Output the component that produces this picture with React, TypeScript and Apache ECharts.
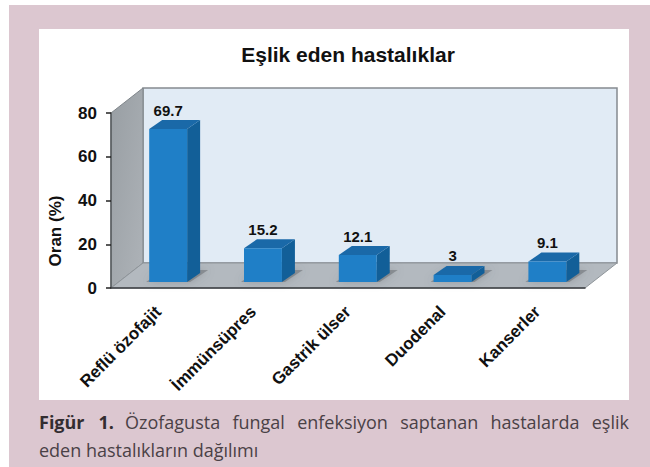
import React, { useEffect, useRef } from "react";
import * as echarts from "echarts";

const chartTitle = "Eşlik eden hastalıklar";
const categories = ["Reflü özofajit", "İmmünsüpres", "Gastrik ülser", "Duodenal", "Kanserler"];
const values = [69.7, 15.2, 12.1, 3, 9.1];
const yTicks = { min: 0, max: 80, interval: 20 };
const yName = "Oran (%)";
const captionBold = "Figür 1.";
const captionLine1 = "Özofagusta fungal enfeksiyon saptanan hastalarda eşlik";
const captionLine2 = "eden hastalıkların dağılımı";

const SANS = "'Liberation Sans', Arial, sans-serif";
const CAP = "'Open Sans', sans-serif";
const PINK = "#dcc7d0";
const DEPTH_X = 32;
const DEPTH_Y = 25;

function renderFrame(params: any) {
  const { x, y, width, height } = params.coordSys;
  const b = y + height;
  const r = x + width;
  return {
    type: "group",
    children: [
      {
        type: "polygon",
        shape: { points: [[x + DEPTH_X, y - DEPTH_Y], [r + DEPTH_X, y - DEPTH_Y], [r + DEPTH_X, b - DEPTH_Y], [x + DEPTH_X, b - DEPTH_Y]] },
        style: { fill: "#e1ebf5", stroke: "#858b90", lineWidth: 1.5 },
      },
      {
        type: "polygon",
        shape: { points: [[x, y], [x + DEPTH_X, y - DEPTH_Y], [x + DEPTH_X, b - DEPTH_Y], [x, b]] },
        style: {
          fill: { type: "linear", x: 0, y: 0, x2: 1, y2: 1, colorStops: [{ offset: 0, color: "#989ea3" }, { offset: 1, color: "#aeb3b8" }] },
          stroke: "#7f858a",
          lineWidth: 1,
        },
      },
      {
        type: "polygon",
        shape: { points: [[x, b], [r, b], [r + DEPTH_X, b - DEPTH_Y], [x + DEPTH_X, b - DEPTH_Y]] },
        style: { fill: "#b3b9bf", stroke: "#8f959a", lineWidth: 1 },
      },
    ],
  };
}

function renderBar(params: any, api: any) {
  const band = api.size([1, 0])[0];
  const base = api.coord([api.value(0), 0]);
  const top = api.coord([api.value(0), api.value(1)]);
  const w = band * 0.4;
  const cx = base[0] + band * 0.103;
  const x0 = cx - w / 2;
  const x1 = cx + w / 2;
  const by = base[1] - 6;
  const ty = top[1] - 6.5;
  const dx = 13;
  const dy = 9;
  return {
    type: "group",
    children: [
      {
        type: "polygon",
        shape: { points: [[x0 - 3, by], [x1 + 3, by], [x1 + dx + 8, by - 12], [x0 + dx, by - 12]] },
        style: { fill: "rgba(90,95,100,0.45)", shadowBlur: 8, shadowColor: "rgba(90,95,100,0.7)" },
      },
      {
        type: "polygon",
        shape: { points: [[x1, by], [x1 + dx, by - dy], [x1 + dx, ty - dy], [x1, ty]] },
        style: { fill: "#125f98" },
      },
      {
        type: "polygon",
        shape: { points: [[x0, ty], [x1, ty], [x1 + dx, ty - dy], [x0 + dx, ty - dy]] },
        style: { fill: "#1a69a8" },
      },
      {
        type: "rect",
        shape: { x: x0, y: ty, width: w, height: by - ty },
        style: { fill: "#1f7fc7" },
      },
      {
        type: "text",
        style: {
          x: cx,
          y: ty - dy - 10,
          text: String(api.value(1)),
          align: "center",
          verticalAlign: "middle",
          font: `bold 15px ${SANS}`,
          fill: "#111",
        },
      },
    ],
  };
}

export default function App() {
  const ref = useRef<HTMLDivElement>(null);
  useEffect(() => {
    const chart = echarts.init(ref.current!, null, { renderer: "svg", width: 650, height: 467 });
    chart.setOption({
      animation: false,
      backgroundColor: "#ffffff",
      title: {
        text: chartTitle,
        left: 343,
        top: 39,
        textAlign: "center",
        textStyle: { fontFamily: SANS, fontWeight: "bold", fontSize: 21, color: "#111" },
      },
      grid: { left: 111, right: 65, top: 113, bottom: 179 },
      xAxis: {
        type: "category",
        data: categories,
        z: 5,
        axisLine: { lineStyle: { color: "#3a3d40", width: 1.5 } },
        axisTick: { length: 5, lineStyle: { color: "#222", width: 1.5 } },
        axisLabel: { rotate: 45, interval: 0, margin: 21, fontFamily: SANS, fontWeight: "bold", fontSize: 17, color: "#111" },
      },
      yAxis: {
        type: "value",
        ...yTicks,
        z: 5,
        splitLine: { show: false },
        axisLine: { show: true, lineStyle: { color: "#55585b", width: 1.5 } },
        axisTick: { show: true, length: 5, lineStyle: { color: "#222", width: 1.5 } },
        axisLabel: { margin: 14, fontFamily: SANS, fontWeight: "bold", fontSize: 17, color: "#111" },
      },
      graphic: [
        { type: "rect", z: -20, shape: { x: 9, y: 5, width: 641, height: 462 }, style: { fill: PINK } },
        { type: "rect", z: -19, shape: { x: 39, y: 29, width: 590, height: 371 }, style: { fill: "#ffffff" } },
        { type: "text", x: 55, y: 231, rotation: Math.PI / 2, style: { text: yName, align: "center", verticalAlign: "middle", font: `bold 17px ${SANS}`, fill: "#111" } },
        { type: "text", x: 39, y: 422, style: { text: captionBold, align: "left", verticalAlign: "middle", font: `bold 18px ${CAP}`, fill: "#332d30" } },
        { type: "text", x: 125, y: 422, style: { text: captionLine1, align: "left", verticalAlign: "middle", font: `18px ${CAP}`, fill: "#4a4146" } },
        { type: "text", x: 39, y: 450, style: { text: captionLine2, align: "left", verticalAlign: "middle", font: `18px ${CAP}`, fill: "#4a4146" } },
      ],
      series: [
        { type: "custom", coordinateSystem: "cartesian2d", z: 1, silent: true, clip: false, data: [[0, 0]], encode: { x: 0, y: 1 }, renderItem: renderFrame },
        { type: "custom", coordinateSystem: "cartesian2d", z: 2, clip: false, data: values.map((v, i) => [i, v]), encode: { x: 0, y: 1 }, renderItem: renderBar },
      ],
    });
    // The printed caption is justified: stretch the word gaps to the panel's width.
    const justify = (start: string, targetWidth: number) => {
      ref.current!.querySelectorAll("text").forEach((t: any) => {
        if (!t.textContent.startsWith(start)) return;
        const spaces = t.textContent.split(" ").length - 1;
        t.style.wordSpacing = `${(targetWidth - t.getComputedTextLength()) / spaces}px`;
      });
    };
    justify(captionBold, 75);
    justify(captionLine1, 504);
    return () => chart.dispose();
  }, []);
  return <div ref={ref} style={{ position: "fixed", left: 0, top: 0, width: 650, height: 467 }} />;
}
